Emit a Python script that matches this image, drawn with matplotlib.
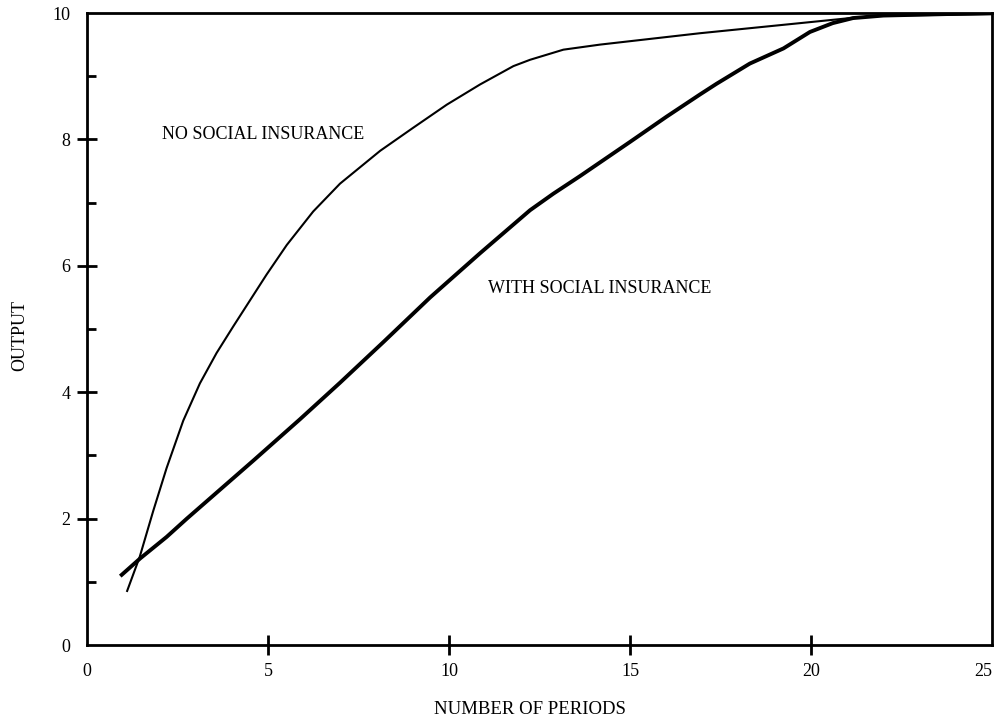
import numpy as np
import matplotlib
matplotlib.use("Agg")
import matplotlib.pyplot as plt
from matplotlib.ticker import MultipleLocator

plt.rcParams['font.family'] = ['Liberation Serif', 'DejaVu Serif']

# curve without social insurance (thin line)
no_ins_x = [1.10, 1.46, 1.83, 2.20, 2.66, 3.12, 3.58, 4.04, 4.50, 4.96, 5.52, 6.25,
            6.99, 8.1, 9.0, 9.94, 10.86, 11.78, 12.24, 13.16, 14.17, 16.93,
            19.7, 21.08, 22.0, 25.0]
no_ins_y = [0.84, 1.40, 2.12, 2.80, 3.55, 4.14, 4.62, 5.04, 5.45, 5.86, 6.33, 6.86,
            7.30, 7.82, 8.18, 8.55, 8.87, 9.16, 9.26, 9.42, 9.50, 9.68,
            9.84, 9.92, 9.96, 9.98]

# curve with social insurance (thick line)
with_ins_x = [0.92, 1.47, 2.2, 2.76, 4.04, 4.6, 5.88, 6.99, 8.2, 9.48, 10.86,
              12.24, 12.88, 13.62, 15.0, 16.01, 16.93, 17.39, 18.31, 19.24, 19.97,
              20.6, 21.16, 22.0, 25.0]
with_ins_y = [1.09, 1.37, 1.71, 2.0, 2.64, 2.92, 3.57, 4.15, 4.80, 5.50, 6.20,
              6.88, 7.14, 7.42, 7.96, 8.36, 8.71, 8.88, 9.20, 9.44, 9.70,
              9.84, 9.92, 9.96, 10.0]

x_ticks = [0, 5, 10, 15, 20, 25]
y_ticks = [0, 2, 4, 6, 8, 10]

fig = plt.figure(figsize=(9.96, 7.19), dpi=100)
ax = fig.add_axes([0.0873, 0.1029, 0.9087, 0.879])

ax.plot(no_ins_x, no_ins_y, color='black', lw=1.5, solid_capstyle='butt')
ax.plot(with_ins_x, with_ins_y, color='black', lw=2.8, solid_capstyle='butt')

ax.set_xlim(0, 25)
ax.set_ylim(0, 10)
ax.set_xticks(x_ticks)
ax.set_yticks(y_ticks)
ax.yaxis.set_minor_locator(MultipleLocator(1))

ax.tick_params(axis='both', which='major', direction='inout', length=14,
               width=2, labelsize=13, color='black')
ax.tick_params(axis='x', which='major', pad=6)
ax.tick_params(axis='y', which='major', pad=5)
ax.tick_params(axis='y', which='minor', direction='in', length=6.5, width=2)
# endpoints of the frame carry no tick marks
for t in ax.xaxis.get_major_ticks()[::5]:
    t.tick1line.set_visible(False)
    t.tick2line.set_visible(False)
for t in ax.yaxis.get_major_ticks()[::5]:
    t.tick1line.set_visible(False)
    t.tick2line.set_visible(False)
# last x label sits inside the frame corner
ax.get_xticklabels()[-1].set_horizontalalignment('right')

for s in ax.spines.values():
    s.set_linewidth(2)

ax.set_xlabel("NUMBER OF PERIODS", fontsize=13.5)
ax.xaxis.set_label_coords(0.49, -0.089)
ax.set_ylabel("OUTPUT", fontsize=13)
ax.yaxis.set_label_coords(-0.065, 0.49)

ax.text(2.06, 8.07, "NO SOCIAL INSURANCE", fontsize=13, ha='left', va='center')
ax.text(11.09, 5.64, "WITH SOCIAL INSURANCE", fontsize=13, ha='left', va='center')

fig.savefig("out.png", dpi=100)
